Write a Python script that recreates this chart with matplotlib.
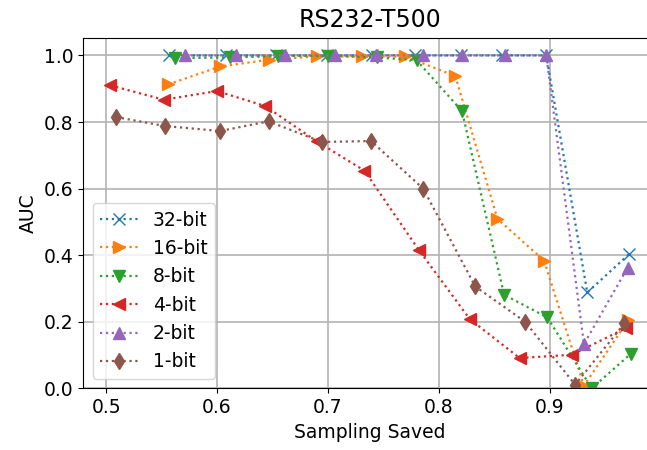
import matplotlib
matplotlib.use("Agg")
from matplotlib import pyplot as plt

labels = ["32-bit", "16-bit", "8-bit", "4-bit", "2-bit", "1-bit"]
markers = ["x", ">", "v", "<", "^", "d"]

x_32 = [0.557, 0.608, 0.653, 0.6995, 0.740, 0.779, 0.820, 0.857, 0.897, 0.934, 0.972]
y_32 = [1.0, 1.0, 1.0, 1.0, 1.0, 1.0, 1.0, 1.0, 1.0, 0.288, 0.404]

x_16 = [0.556, 0.603, 0.647, 0.690, 0.731, 0.770, 0.815, 0.853, 0.895, 0.931, 0.971]
y_16 = [0.913, 0.967, 0.987, 0.997, 0.997, 0.997, 0.938, 0.509, 0.384, 0.008, 0.205]

x_8 = [0.562, 0.612, 0.6555, 0.7006, 0.744, 0.780, 0.821, 0.859, 0.898, 0.938, 0.973]
y_8 = [0.992, 0.994, 0.998, 0.999, 0.994, 0.986, 0.833, 0.281, 0.213, 0.0, 0.103]

x_4 = [0.504, 0.552, 0.600, 0.6435, 0.690, 0.733, 0.782, 0.828, 0.873, 0.920, 0.969]
y_4 = [0.910, 0.867, 0.893, 0.848, 0.742, 0.654, 0.416, 0.208, 0.091, 0.101, 0.181]

x_2 = [0.571, 0.617, 0.6615, 0.7067, 0.7437, 0.7858, 0.821, 0.860, 0.897, 0.931, 0.9705]
y_2 = [1.0, 1.0, 1.0, 1.0, 1.0, 1.0, 1.0, 1.0, 1.0, 0.133, 0.363]

x_1 = [0.509, 0.553, 0.603, 0.6465, 0.6947, 0.739, 0.786, 0.833, 0.878, 0.923, 0.9675]
y_1 = [0.815, 0.788, 0.773, 0.802, 0.740, 0.743, 0.600, 0.306, 0.200, 0.011, 0.195]

xs = [x_32, x_16, x_8, x_4, x_2, x_1]
ys = [y_32, y_16, y_8, y_4, y_2, y_1]


def main():
    plt.rcParams["font.size"] = 13.5
    fig = plt.figure(figsize=(6.47, 4.5), dpi=100)
    # right spine falls just outside the saved image in the reference
    ax = fig.add_axes([0.1288, 0.137, 0.886, 0.779])

    for x, y, label, marker in zip(xs, ys, labels, markers):
        ax.plot(x, y, linestyle=":", marker=marker, markersize=8.5,
                linewidth=1.6, label=label)

    ax.set_xlim(0.4795, 0.9965)
    ax.set_ylim(0, 1.053)
    ax.set_xticks([0.5, 0.6, 0.7, 0.8, 0.9])
    ax.set_yticks([0.0, 0.2, 0.4, 0.6, 0.8, 1.0])
    ax.grid(True, color="0.7", linewidth=1.2)
    ax.set_axisbelow(True)
    ax.set_title("RS232-T500", fontsize=17, pad=8)
    ax.set_xlabel("Sampling Saved")
    ax.set_ylabel("AUC")
    ax.legend(loc="lower left")
    fig.savefig("out.png", dpi=100)
    plt.close()


if __name__ == "__main__":
    main()
